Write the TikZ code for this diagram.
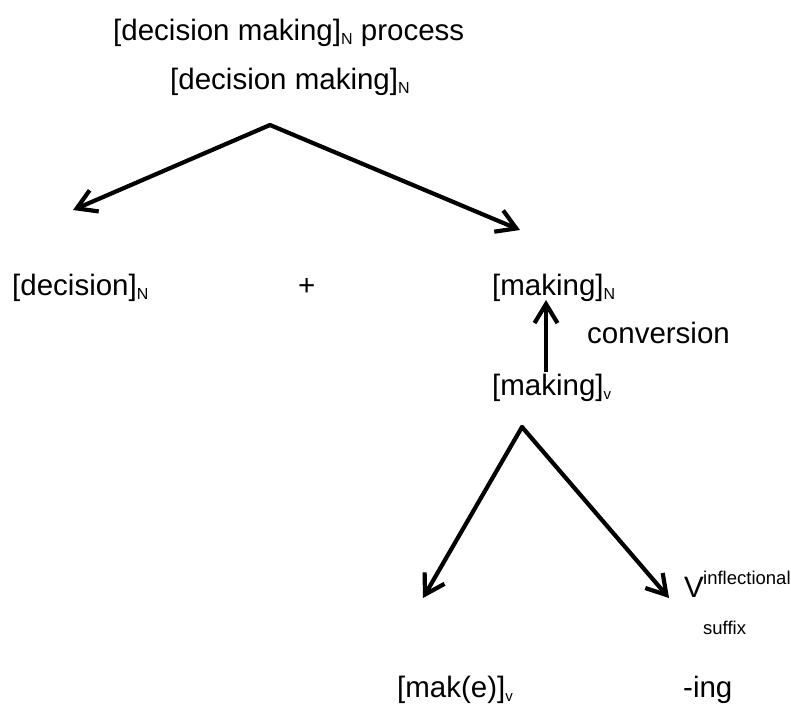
\documentclass[tikz,border=0pt]{standalone}
\usepackage{fontspec}
\setmainfont{Liberation Sans}
\usetikzlibrary{arrows.meta}
\newcommand{\subN}[1]{\raisebox{-4pt}{\fontsize{16}{16}\selectfont #1}}
\newcommand{\subv}[1]{\raisebox{-4pt}{\fontsize{15}{15}\selectfont #1}}
\begin{document}
\begin{tikzpicture}[x=1pt,y=-1pt,
  lbl/.style={anchor=base west,inner sep=0pt,font=\fontsize{29.5}{31}\selectfont},
  small/.style={anchor=base west,inner sep=0pt,font=\fontsize{18.5}{20}\selectfont},
  branch/.style={line width=4.2pt,-{Straight Barb[length=19pt,width=23pt,line width=4.2pt]}}]
\useasboundingbox[fill=white] (0,0) rectangle (791,705);
% texts
\node[lbl] (top) at (113,40) {[decision making]\subN{N} process};
\node[lbl] (dm) at (170,89) {[decision making]\subN{N}};
\node[lbl] (dec) at (12,295) {[decision]\subN{N}};
\node[lbl] (plus) at (298,295) {+};
\node[lbl] (mN) at (492,295) {[making]\subN{N}};
\node[lbl] (conv) at (587,343) {conversion};
\node[lbl] (mv) at (492,395) {[making]\subv{v}};
\node[lbl] (V) at (684,597) {V};
\node[small] (infl) at (703,584) {inflectional};
\node[small] (suf) at (703,634) {suffix};
\node[lbl] (mak) at (397,697) {[mak(e)]\subv{v}};
\node[lbl] (ing) at (683,697) {-ing};
% connector points
\coordinate (apex1) at (270,125);
\coordinate (tipL1) at (73,210);
\coordinate (tipR1) at (520,230);
\coordinate (convB) at (546,372);
\coordinate (convT) at (546,300);
\coordinate (apex2) at (522,427);
\coordinate (tipL2) at (423,598);
\coordinate (tipR2) at (669,598);
% connectors
\draw[branch,line cap=round] (apex1) -- (tipL1);
\draw[branch,line cap=round] (apex1) -- (tipR1);
\draw[branch] (convB) -- (convT);
\draw[branch,line cap=round] (apex2) -- (tipL2);
\draw[branch,line cap=round] (apex2) -- (tipR2);
\end{tikzpicture}
\end{document}
